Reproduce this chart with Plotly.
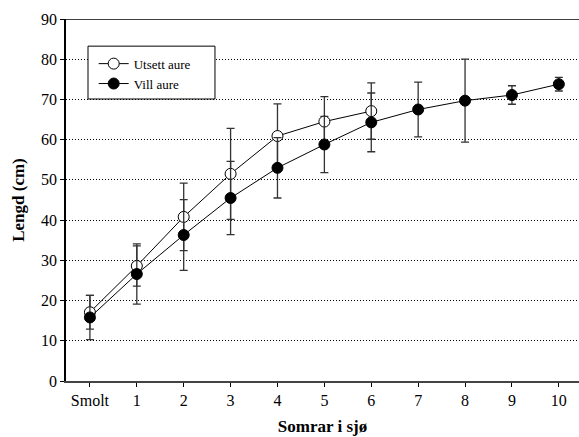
import plotly.graph_objects as go

categories = ["Smolt", "1", "2", "3", "4", "5", "6", "7", "8", "9", "10"]
x_pos = list(range(len(categories)))

utsett_vals = [17.1, 28.6, 40.8, 51.5, 60.9, 64.5, 67.1]
utsett_err = [4.2, 5.0, 8.4, 11.3, 8.0, 6.2, 7.0]

vill_vals = [15.8, 26.6, 36.3, 45.5, 53.0, 58.8, 64.3, 67.5, 69.7, 71.1, 73.8]
vill_err = [5.5, 7.5, 8.8, 9.1, 7.5, 7.0, 7.3, 6.8, 10.3, 2.3, 1.7]

y_ticks = [0, 10, 20, 30, 40, 50, 60, 70, 80, 90]

FONT = "Liberation Serif, Times New Roman, serif"

fig = go.Figure()
fig.add_trace(go.Scatter(
    x=x_pos[:len(utsett_vals)], y=utsett_vals, name="Utsett aure",
    mode="lines+markers",
    line=dict(color="black", width=1),
    marker=dict(symbol="circle", size=11, color="white", line=dict(color="black", width=1)),
    error_y=dict(type="data", array=utsett_err, visible=True, color="#333333", thickness=1.3, width=4),
))
fig.add_trace(go.Scatter(
    x=x_pos, y=vill_vals, name="Vill aure",
    mode="lines+markers",
    line=dict(color="black", width=1),
    marker=dict(symbol="circle", size=11, color="black", line=dict(color="black", width=1)),
    error_y=dict(type="data", array=vill_err, visible=True, color="#333333", thickness=1.3, width=4),
))

# top border
fig.add_shape(type="line", xref="paper", yref="y", x0=0, x1=1, y0=90, y1=90,
              line=dict(color="black", width=1.5))
# legend frame
fig.add_shape(type="rect", xref="paper", yref="paper", x0=0.0429, x1=0.2904, y0=0.779, y1=0.925,
              line=dict(color="black", width=1), fillcolor="white", layer="above")

fig.update_layout(
    width=579, height=437,
    margin=dict(l=66, r=0, t=19, b=56),
    paper_bgcolor="white", plot_bgcolor="white",
    font=dict(family=FONT, size=16, color="black"),
    showlegend=True,
    legend=dict(x=0.054, y=0.918, xanchor="left", yanchor="top",
                borderwidth=0, bgcolor="rgba(0,0,0,0)",
                font=dict(family=FONT, size=13), tracegroupgap=0),
    xaxis=dict(
        range=[-0.51, 10.43], tickvals=x_pos, ticktext=categories,
        showgrid=False, zeroline=False, showline=True, linecolor="#444444", linewidth=1.5,
        ticks="outside", ticklen=4, tickcolor="black",
        title=dict(text="<b>Somrar i sjø</b>", font=dict(family=FONT, size=17), standoff=12),
        tickfont=dict(family=FONT, size=16),
    ),
    yaxis=dict(
        range=[0, 90], tickvals=y_ticks,
        showgrid=True, gridcolor="black", griddash="1px,2px", gridwidth=1,
        zeroline=False, showline=True, linecolor="black", linewidth=1.5,
        ticks="outside", ticklen=4, tickcolor="black",
        title=dict(text="<b>Lengd (cm)</b>", font=dict(family=FONT, size=17), standoff=12),
        tickfont=dict(family=FONT, size=16),
    ),
)

fig.write_html("out.html")
